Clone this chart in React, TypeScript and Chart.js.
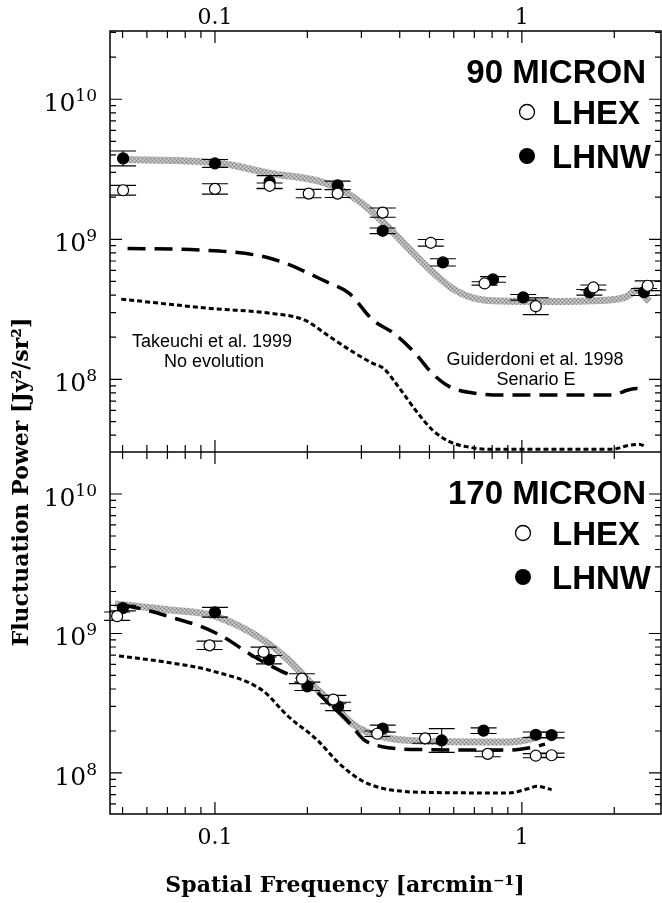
import React, { useEffect, useRef } from "react";
import { Chart, registerables } from "chart.js";

Chart.register(...registerables);

// ---------- tick labels ----------
const X_TICK_LABELS = [0.1, 1];
const Y_TICK_LABELS = [1e8, 1e9, 1e10];

// ---------- 90 MICRON panel ----------
const m90_LHNW_x = [0.0502, 0.1, 0.1507, 0.251, 0.352, 0.553, 0.805, 1.01, 1.66, 2.5];
const m90_LHNW_y = [3.78e9, 3.48e9, 2.57e9, 2.43e9, 1.15e9, 6.84e8, 5.17e8, 3.85e8, 4.18e8, 4.2e8];
const m90_LHNW_err = [0.053, 0.028, 0.045, 0.03, 0.02, 0.026, 0.02, 0.02, 0.02, 0.025];

const m90_LHEX_x = [0.0502, 0.1, 0.1507, 0.202, 0.251, 0.352, 0.505, 0.756, 1.11, 1.71, 2.57];
const m90_LHEX_y = [2.24e9, 2.29e9, 2.41e9, 2.12e9, 2.12e9, 1.55e9, 9.44e8, 4.84e8, 3.33e8, 4.53e8, 4.66e8];
const m90_LHEX_err = [0.035, 0.037, 0.02, 0.03, 0.028, 0.033, 0.024, 0.012, 0.06, 0.018, 0.035];

const m90_fit_x = [0.0487, 0.1, 0.152, 0.222, 0.27, 0.316, 0.371, 0.435, 0.511, 0.6, 0.703, 0.853, 1.25, 1.96, 2.2, 2.37, 2.6];
const m90_fit_y = [3.71e9, 3.53e9, 2.95e9, 2.57e9, 2.12e9, 1.66e9, 1.19e9, 8.28e8, 5.86e8, 4.39e8, 3.78e8, 3.62e8, 3.6e8, 3.7e8, 3.9e8, 4.35e8, 3.6e8];

const m90_guid_x = [0.0519, 0.0909, 0.152, 0.237, 0.274, 0.327, 0.383, 0.45, 0.511, 0.581, 0.703, 0.908, 1.96, 2.22, 2.37, 2.53];
const m90_guid_y = [8.6e8, 8.38e8, 7.3e8, 4.84e8, 4.11e8, 2.65e8, 2.13e8, 1.53e8, 1.1e8, 8.87e7, 7.95e7, 7.73e7, 7.73e7, 8.4e7, 8.6e7, 8.2e7];

const m90_take_x = [0.0495, 0.0968, 0.152, 0.196, 0.237, 0.287, 0.327, 0.354, 0.396, 0.45, 0.511, 0.581, 0.659, 0.776, 1.96, 2.22, 2.41, 2.53];
const m90_take_y = [3.74e8, 3.21e8, 2.96e8, 2.65e8, 2.01e8, 1.53e8, 1.3e8, 1.2e8, 8.87e7, 6.04e7, 4.35e7, 3.59e7, 3.31e7, 3.17e7, 3.17e7, 3.37e7, 3.44e7, 3.31e7];

// ---------- 170 MICRON panel ----------
const m170_LHNW_x = [0.0501, 0.1, 0.15, 0.2, 0.252, 0.352, 0.548, 0.75, 1.11, 1.25];
const m170_LHNW_y = [1.52e9, 1.42e9, 6.49e8, 4.18e8, 3.0e8, 2.08e8, 1.71e8, 2.01e8, 1.88e8, 1.87e8];
const m170_LHNW_err = [0.02, 0.035, 0.03, 0.03, 0.03, 0.025, 0.085, 0.02, 0.02, 0.02];

const m170_LHEX_x = [0.048, 0.096, 0.144, 0.192, 0.243, 0.338, 0.484, 0.774, 1.11, 1.25];
const m170_LHEX_y = [1.33e9, 8.22e8, 7.37e8, 4.74e8, 3.36e8, 1.91e8, 1.77e8, 1.37e8, 1.33e8, 1.34e8];
const m170_LHEX_err = [0.03, 0.03, 0.035, 0.035, 0.03, 0.02, 0.035, 0.02, 0.015, 0.015];

const m170_fit_x = [0.0472, 0.0704, 0.1, 0.143, 0.173, 0.21, 0.246, 0.278, 0.316, 0.383, 0.48, 0.908, 1.04, 1.15];
const m170_fit_y = [1.63e9, 1.48e9, 1.33e9, 9.04e8, 6.49e8, 4.18e8, 3.0e8, 2.28e8, 1.94e8, 1.75e8, 1.69e8, 1.67e8, 1.73e8, 1.84e8];

const m170_guid_x = [0.0501, 0.06, 0.0752, 0.0893, 0.106, 0.133, 0.163, 0.1995, 0.232, 0.269, 0.306, 0.348, 0.48, 0.908, 1.07, 1.19];
const m170_guid_y = [1.6e9, 1.47e9, 1.27e9, 1.13e9, 9.5e8, 6.9e8, 5.42e8, 4.4e8, 3.23e8, 2.4e8, 1.73e8, 1.55e8, 1.47e8, 1.46e8, 1.52e8, 1.61e8];

const m170_take_x = [0.0487, 0.0704, 0.0975, 0.143, 0.173, 0.215, 0.253, 0.297, 0.348, 0.408, 0.48, 0.908, 1.04, 1.12, 1.25];
const m170_take_y = [6.9e8, 6.2e8, 5.4e8, 3.9e8, 2.55e8, 1.73e8, 1.18e8, 8.96e7, 7.8e7, 7.39e7, 7.26e7, 7.19e7, 7.67e7, 8.02e7, 7.59e7];

// ---------- helpers ----------
const pts = (xs: number[], ys: number[]) => xs.map((x, i) => ({ x, y: ys[i] }));

const SERIF = "'DejaVu Serif', 'Liberation Serif', serif";
const SANS = "'Liberation Sans', Arial, sans-serif";

function logTicks(min: number, max: number) {
  const out: { v: number; major: boolean }[] = [];
  for (let e = Math.floor(Math.log10(min)); e <= Math.ceil(Math.log10(max)); e++) {
    for (let m = 1; m <= 9; m++) {
      const v = m * Math.pow(10, e);
      if (v > min * 1.0001 && v < max * 0.9999) out.push({ v, major: m === 1 });
    }
  }
  return out;
}

const errorBarPlugin = {
  id: "errbars",
  beforeDatasetDraw(chart: any, args: any) {
    const ds = chart.data.datasets[args.index];
    if (!ds.errDex) return;
    const meta = args.meta;
    const xs = chart.scales[meta.xAxisID];
    const ys = chart.scales[meta.yAxisID];
    const ctx = chart.ctx;
    ctx.save();
    ctx.strokeStyle = "#000";
    ctx.lineWidth = 1.1;
    ds.data.forEach((p: any, i: number) => {
      const e = ds.errDex[i];
      const px = xs.getPixelForValue(p.x);
      const yHi = ys.getPixelForValue(p.y * Math.pow(10, e));
      const yLo = ys.getPixelForValue(p.y / Math.pow(10, e));
      ctx.beginPath();
      ctx.moveTo(px, yHi);
      ctx.lineTo(px, yLo);
      ctx.moveTo(px - 13, yHi);
      ctx.lineTo(px + 13, yHi);
      ctx.moveTo(px - 13, yLo);
      ctx.lineTo(px + 13, yLo);
      ctx.stroke();
    });
    ctx.restore();
  },
};

const framePlugin = {
  id: "frame",
  afterDraw(chart: any) {
    const ctx = chart.ctx;
    const a = chart.chartArea;
    const x = chart.scales.x;
    const yT = chart.scales.yT;
    const yB = chart.scales.yB;
    const div = yT.bottom;
    ctx.save();
    ctx.strokeStyle = "#000";
    ctx.lineWidth = 1.5;
    ctx.strokeRect(a.left, a.top, a.right - a.left, a.bottom - a.top);
    ctx.beginPath();
    ctx.moveTo(a.left, div);
    ctx.lineTo(a.right, div);
    ctx.stroke();

    ctx.lineWidth = 1.2;
    ctx.beginPath();
    // x ticks (inward, on top, divider and bottom)
    for (const t of logTicks(x.min, x.max)) {
      const px = x.getPixelForValue(t.v);
      const len = t.major ? 12 : 7;
      ctx.moveTo(px, a.top); ctx.lineTo(px, a.top + len);
      ctx.moveTo(px, div - len); ctx.lineTo(px, div + len);
      ctx.moveTo(px, a.bottom); ctx.lineTo(px, a.bottom - len);
    }
    // y ticks (inward, both sides)
    for (const s of [yT, yB]) {
      for (const t of logTicks(s.min, s.max)) {
        const py = s.getPixelForValue(t.v);
        const len = t.major ? 12 : 6;
        ctx.moveTo(a.left, py); ctx.lineTo(a.left + len, py);
        ctx.moveTo(a.right, py); ctx.lineTo(a.right - len, py);
      }
    }
    ctx.stroke();

    // y tick labels: 10 with raised exponent
    ctx.fillStyle = "#000";
    ctx.textAlign = "left";
    ctx.textBaseline = "alphabetic";
    for (const s of [yT, yB]) {
      for (const v of Y_TICK_LABELS) {
        const py = s.getPixelForValue(v);
        const exp = String(Math.round(Math.log10(v)));
        const right = a.left - 13;
        ctx.font = `17px ${SERIF}`;
        const ew = ctx.measureText(exp).width;
        ctx.fillText(exp, right - ew, py + 2);
        ctx.font = `25px ${SERIF}`;
        const mw = ctx.measureText("10").width;
        ctx.fillText("10", right - ew - mw, py + 12);
      }
    }

    // axis titles
    ctx.font = `bold 22px ${SERIF}`;
    ctx.textAlign = "center";
    ctx.textBaseline = "middle";
    ctx.fillText("Spatial Frequency [arcmin\u207b\u00b9]", 345, 886);
    ctx.save();
    ctx.translate(22, 482);
    ctx.rotate(-Math.PI / 2);
    ctx.fillText("Fluctuation Power [Jy\u00b2/sr\u00b2]", 0, 0);
    ctx.restore();

    // panel labels & legends
    const panels = [
      { title: "90 MICRON", top: yT.top, mx: 527 },
      { title: "170 MICRON", top: yB.top, mx: 523 },
    ];
    panels.forEach((p) => {
      const t0 = p.top;
      ctx.fillStyle = "#000";
      ctx.font = `bold 33px ${SANS}`;
      ctx.textAlign = "right";
      ctx.textBaseline = "alphabetic";
      ctx.fillText(p.title, 646, t0 + 52);
      ctx.textAlign = "left";
      ctx.fillText("LHEX", 552, t0 + 93);
      ctx.fillText("LHNW", 552, t0 + 137);
      ctx.lineWidth = 1.3;
      ctx.beginPath();
      ctx.arc(p.mx, t0 + 81, 7.5, 0, Math.PI * 2);
      ctx.fillStyle = "#fff";
      ctx.fill();
      ctx.stroke();
      ctx.beginPath();
      ctx.fillStyle = "#000";
      ctx.arc(p.mx, t0 + 125, 8, 0, Math.PI * 2);
      ctx.fill();
    });

    // model annotations (top panel)
    ctx.font = `18px ${SANS}`;
    ctx.textAlign = "center";
    ctx.fillStyle = "#000";
    ctx.fillText("Takeuchi et al. 1999", 212, 347);
    ctx.fillText("No evolution", 214, 367);
    ctx.fillText("Guiderdoni et al. 1998", 535, 365);
    ctx.fillText("Senario E", 536, 385);
    ctx.restore();
  },
};

function makeGrayPattern(): CanvasPattern | string {
  const pc = document.createElement("canvas");
  pc.width = 4;
  pc.height = 4;
  const g = pc.getContext("2d");
  if (!g) return "#aaa";
  g.fillStyle = "#b0b0b0";
  g.fillRect(0, 0, 4, 4);
  g.fillStyle = "#808080";
  g.fillRect(0, 0, 1, 1);
  g.fillRect(2, 2, 1, 1);
  g.fillStyle = "#d8d8d8";
  g.fillRect(2, 0, 1, 1);
  g.fillRect(0, 2, 1, 1);
  const p = g.createPattern(pc, "repeat");
  return p || "#aaa";
}

export default function App() {
  const ref = useRef<HTMLCanvasElement | null>(null);

  useEffect(() => {
    document.body.style.margin = "0";
    const canvas = ref.current;
    if (!canvas) return;
    const gray = makeGrayPattern();

    const curve = (xs: number[], ys: number[], yAxisID: string, kind: "fit" | "dash" | "dot") => ({
      type: "line",
      data: pts(xs, ys),
      xAxisID: "x",
      yAxisID,
      showLine: true,
      fill: false,
      pointRadius: 0,
      cubicInterpolationMode: "monotone",
      borderColor: kind === "fit" ? gray : "#000",
      borderWidth: kind === "fit" ? 7 : kind === "dash" ? 3.5 : 3,
      borderDash: kind === "dash" ? [18, 9] : kind === "dot" ? [5, 3] : [],
      borderCapStyle: "butt",
      order: kind === "fit" ? 3 : 2,
    });
    const markers = (xs: number[], ys: number[], err: number[], yAxisID: string, filled: boolean) => ({
      type: "line",
      data: pts(xs, ys),
      errDex: err,
      xAxisID: "x",
      yAxisID,
      showLine: false,
      pointRadius: 5.5,
      pointHoverRadius: 5.5,
      pointBackgroundColor: filled ? "#000" : "#fff",
      pointBorderColor: "#000",
      pointBorderWidth: 1.2,
      order: filled ? 1 : 0,
    });

    const xTicksCfg = (padding: number) => ({
      color: "#000",
      font: { family: SERIF, size: 22 },
      padding,
      autoSkip: false,
      maxRotation: 0,
      callback: (v: number) => (v === 1 ? "1" : String(v)),
    });
    const fixX = (h: number) => (s: any) => {
      s.height = h;
      s.paddingLeft = 0;
      s.paddingRight = 0;
    };
    const yAxis = (min: number, max: number, weight: number) => ({
      type: "logarithmic",
      position: "left",
      stack: "panels",
      stackWeight: weight,
      min,
      max,
      grid: { display: false, drawTicks: false },
      border: { display: false },
      afterBuildTicks: (s: any) => { s.ticks = Y_TICK_LABELS.map((v) => ({ value: v })); },
      afterFit: (s: any) => { s.width = 110; s.paddingTop = 0; s.paddingBottom = 0; },
      ticks: { display: false },
    });

    const chart = new Chart(canvas, {
      type: "line",
      data: {
        datasets: [
          markers(m90_LHEX_x, m90_LHEX_y, m90_LHEX_err, "yT", false),
          markers(m90_LHNW_x, m90_LHNW_y, m90_LHNW_err, "yT", true),
          curve(m90_fit_x, m90_fit_y, "yT", "fit"),
          curve(m90_guid_x, m90_guid_y, "yT", "dash"),
          curve(m90_take_x, m90_take_y, "yT", "dot"),
          markers(m170_LHEX_x, m170_LHEX_y, m170_LHEX_err, "yB", false),
          markers(m170_LHNW_x, m170_LHNW_y, m170_LHNW_err, "yB", true),
          curve(m170_fit_x, m170_fit_y, "yB", "fit"),
          curve(m170_guid_x, m170_guid_y, "yB", "dash"),
          curve(m170_take_x, m170_take_y, "yB", "dot"),
        ] as any,
      },
      options: {
        responsive: false,
        animation: false,
        events: [],
        layout: { autoPadding: false, padding: { left: 0, right: 1, top: 0, bottom: 0 } },
        plugins: { legend: { display: false }, tooltip: { enabled: false } },
        scales: {
          x: {
            type: "logarithmic",
            position: "bottom",
            min: 0.0455,
            max: 2.84,
            grid: { display: false, drawTicks: false },
            border: { display: false },
            afterBuildTicks: (s: any) => { s.ticks = X_TICK_LABELS.map((v) => ({ value: v })); },
            afterFit: fixX(89),
            ticks: xTicksCfg(11),
          },
          xT: {
            type: "logarithmic",
            position: "top",
            min: 0.0455,
            max: 2.84,
            grid: { display: false, drawTicks: false },
            border: { display: false },
            afterBuildTicks: (s: any) => { s.ticks = X_TICK_LABELS.map((v) => ({ value: v })); },
            afterFit: fixX(31),
            ticks: xTicksCfg(0),
          },
          yB: yAxis(5.08e7, 2.0e10, 362),
          yT: yAxis(3.03e7, 3.07e10, 421),
        } as any,
      },
      plugins: [errorBarPlugin, framePlugin],
    } as any);

    return () => chart.destroy();
  }, []);

  return (
    <div style={{ width: 662, height: 903, background: "#fff" }}>
      <canvas ref={ref} width={662} height={903} style={{ display: "block", width: 662, height: 903 }} />
    </div>
  );
}
